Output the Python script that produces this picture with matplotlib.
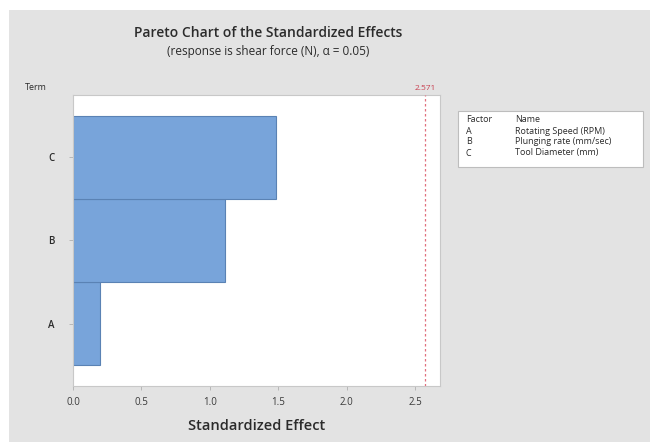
import matplotlib
matplotlib.use("Agg")
import matplotlib.pyplot as plt
from matplotlib.patches import Rectangle

# effects, listed bottom to top
terms = ["A", "B", "C"]
effects = [0.20, 1.11, 1.48]
critical = 2.571
x_ticks = [0.0, 0.5, 1.0, 1.5, 2.0, 2.5]

factors = ["A", "B", "C"]
factor_names = ["Rotating Speed (RPM)", "Plunging rate (mm/sec)", "Tool Diameter (mm)"]

BAR, EDGE, PANEL, INK, SUB = "#78a4da", "#5a82b4", "#e3e3e3", "#2b2b2b", "#3a3a3a"
plt.rcParams["font.family"] = ["Open Sans", "DejaVu Sans"]

W, H = 654, 442
fig = plt.figure(figsize=(W / 100, H / 100), dpi=100, facecolor="white")
panel = Rectangle((9 / W, 0), (650 - 9) / W, (H - 10) / H, transform=fig.transFigure,
                  facecolor=PANEL, edgecolor="none")
panel.set_zorder(-5)
fig.add_artist(panel)

ax = fig.add_axes([73 / W, (H - 386) / H, (440 - 73) / W, (386 - 95) / H])
ax.set_zorder(3)
ax.barh(range(len(terms)), effects, height=1.0, color=BAR, edgecolor=EDGE, linewidth=0.8, zorder=2)
ax.axvline(critical, color="#e0707e", linestyle=(0, (2, 2)), linewidth=0.9, zorder=3)
ax.text(critical, 2.79, f"{critical:.3f}", ha="center", va="bottom", fontsize=6, color="#c84050")

ax.set_xlim(0, 2.68)
ax.set_ylim(-0.75, 2.75)
ax.set_yticks(range(len(terms)))
ax.set_yticklabels(terms, fontsize=7, color=INK, fontweight="semibold")
ax.set_xticks(x_ticks)
ax.set_xticklabels([f"{v:.1f}" for v in x_ticks], fontsize=7, color=SUB)
ax.tick_params(axis="both", length=3, width=0.6, color="#b0b0b0", pad=5)
ax.tick_params(axis="y", pad=10)
for s in ax.spines.values():
    s.set_color("#c8c8c8")
    s.set_linewidth(0.8)
ax.set_xlabel("Standardized Effect", fontsize=10.5, fontweight="semibold", color=INK, labelpad=8)

fig.text(25 / W, 1 - 87 / H, "Term", fontsize=6.5, color=INK, va="center")
fig.text(268 / W, 1 - 33 / H, "Pareto Chart of the Standardized Effects", ha="center", va="center",
         fontsize=10, fontweight="semibold", color=INK)
fig.text(268 / W, 1 - 52 / H, "(response is shear force (N), \u03b1 = 0.05)", ha="center", va="center",
         fontsize=8.5, color=INK)

# factor key box
key = Rectangle((458 / W, 1 - 167 / H), (643 - 458) / W, (167 - 111) / H,
                transform=fig.transFigure, facecolor="white", edgecolor="#bdbdbd", linewidth=0.8)
fig.add_artist(key)
rows = [("Factor", "Name")] + list(zip(factors, factor_names))
for i, (f, n) in enumerate(rows):
    y = 1 - (120 + i * 11) / H
    fig.text(466 / W, y, f, fontsize=6.5, color=INK, va="center")
    fig.text(515 / W, y, n, fontsize=6.5, color=INK, va="center")

fig.savefig("out.png", dpi=100, facecolor="white")
